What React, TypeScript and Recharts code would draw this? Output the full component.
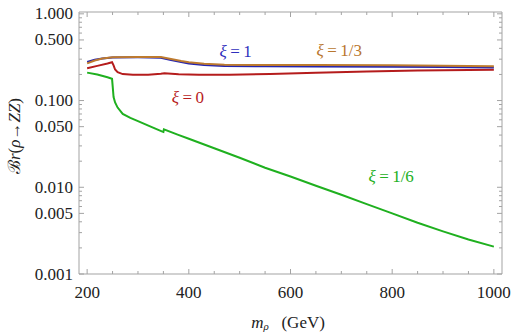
import React from 'react';
import { LineChart, Line, XAxis, YAxis, ReferenceDot } from 'recharts';

// ---- data ----
const massXi1 = [200, 215, 230, 250, 300, 345, 365, 385, 400, 430, 470, 550, 650, 800, 900, 1000];
const brXi1 = [0.279, 0.296, 0.306, 0.314, 0.315, 0.312, 0.294, 0.278, 0.268, 0.257, 0.251, 0.248, 0.247, 0.246, 0.244, 0.241];

const massXi13 = [200, 215, 230, 250, 300, 345, 365, 385, 400, 430, 470, 550, 650, 800, 900, 1000];
const brXi13 = [0.268, 0.29, 0.305, 0.315, 0.318, 0.318, 0.302, 0.286, 0.277, 0.265, 0.259, 0.257, 0.257, 0.256, 0.252, 0.248];

const massXi0 = [200, 220, 240, 249, 252, 255, 260, 270, 290, 320, 345, 352, 380, 420, 480, 560, 650, 750, 850, 1000];
const brXi0 = [0.236, 0.251, 0.268, 0.277, 0.255, 0.228, 0.212, 0.202, 0.198, 0.199, 0.204, 0.206, 0.201, 0.198, 0.199, 0.203, 0.209, 0.216, 0.222, 0.226];

const massXi16 = [200, 220, 240, 249, 250.5, 252, 255, 260, 270, 285, 300, 325, 348, 350, 351, 378, 400, 450, 500, 550, 600, 650, 700, 750, 800, 850, 900, 950, 1000];
const brXi16 = [0.21, 0.2, 0.186, 0.178, 0.14, 0.11, 0.095, 0.083, 0.07, 0.063, 0.058, 0.05, 0.0438, 0.0435, 0.0465, 0.0405, 0.0363, 0.0282, 0.0219, 0.0168, 0.0133, 0.0104, 0.0082, 0.0064, 0.005, 0.0039, 0.0031, 0.0025, 0.00207];

const xTicks = [200, 250, 300, 350, 400, 450, 500, 550, 600, 650, 700, 750, 800, 850, 900, 950, 1000];
const xMajor = [200, 400, 600, 800, 1000];
const yTicks = [
  0.001, 0.002, 0.003, 0.004, 0.005, 0.006, 0.007, 0.008, 0.009,
  0.01, 0.02, 0.03, 0.04, 0.05, 0.06, 0.07, 0.08, 0.09,
  0.1, 0.2, 0.3, 0.4, 0.5, 0.6, 0.7, 0.8, 0.9, 1,
];
const yMajor = [0.001, 0.005, 0.01, 0.05, 0.1, 0.5, 1];

const curveLabels = [
  { name: 'ξ1', text: '1', m: 492, br: 0.374, color: '#2f2fbd' },
  { name: 'ξ13', text: '1/3', m: 696, br: 0.385, color: '#b9772f' },
  { name: 'ξ0', text: '0', m: 398, br: 0.11, color: '#b81d1d' },
  { name: 'ξ16', text: '1/6', m: 798, br: 0.0135, color: '#23b023' },
];

const toRows = (ms: number[], vs: number[]) => ms.map((m, i) => ({ m, v: vs[i] }));

const FONT = "'Liberation Serif', 'Times New Roman', 'DejaVu Serif', serif";
const FRAME = '#a3a3a3';
const txt = (size: number, color: string) => ({ fontFamily: FONT, fontSize: size, fill: color });

const isMajorY = (v: number) => yMajor.some((t) => Math.abs(t - v) < 1e-9);
const fmtY = (v: number) => v.toFixed(3);

const BottomTick = (props: any) => {
  const { x, y, payload } = props;
  const major = xMajor.includes(payload.value);
  return (
    <g>
      <line x1={x} x2={x} y1={y} y2={y - (major ? 5 : 3)} stroke={FRAME} />
      {major && (
        <text x={x} y={y + 18} textAnchor="middle" dominantBaseline="central" style={txt(17, '#222')}>
          {payload.value}
        </text>
      )}
    </g>
  );
};

const TopTick = (props: any) => {
  const { x, y, payload } = props;
  const major = xMajor.includes(payload.value);
  return <line x1={x} x2={x} y1={y} y2={y + (major ? 5 : 3)} stroke={FRAME} />;
};

const LeftTick = (props: any) => {
  const { x, y, payload } = props;
  const major = isMajorY(payload.value);
  return (
    <g>
      <line x1={x} x2={x + (major ? 5 : 3)} y1={y} y2={y} stroke={FRAME} />
      {major && (
        <text x={x - 6} y={y} textAnchor="end" dominantBaseline="central" style={txt(17, '#222')}>
          {fmtY(payload.value)}
        </text>
      )}
    </g>
  );
};

const RightTick = (props: any) => {
  const { x, y, payload } = props;
  const major = isMajorY(payload.value);
  return <line x1={x} x2={x - (major ? 5 : 3)} y1={y} y2={y} stroke={FRAME} />;
};

const makeLabel = (text: string, color: string) => (p: any) => {
  const vb = p.viewBox || {};
  const cx = vb.cx !== undefined ? vb.cx : vb.x + (vb.width || 0) / 2;
  const cy = vb.cy !== undefined ? vb.cy : vb.y + (vb.height || 0) / 2;
  return (
    <text x={cx} y={cy} textAnchor="middle" dominantBaseline="central" style={txt(17, color)}>
      <tspan fontStyle="italic">ξ</tspan>
      <tspan>{'\u2009=\u2009' + text}</tspan>
    </text>
  );
};

export default function App() {
  return (
    <div style={{ position: 'absolute', left: 0, top: 0, width: 515, height: 336, background: '#fff' }}>
      <LineChart width={515} height={336} margin={{ top: 0, right: 0, bottom: 0, left: 0 }}>
        <XAxis
          xAxisId="b"
          type="number"
          dataKey="m"
          domain={[184, 1016]}
          ticks={xTicks}
          interval={0}
          orientation="bottom"
          height={62}
          tickSize={0}
          tickMargin={0}
          tickLine={false}
          axisLine={{ stroke: FRAME }}
          tick={<BottomTick />}
          allowDataOverflow
        />
        <XAxis
          xAxisId="t"
          type="number"
          dataKey="m"
          domain={[184, 1016]}
          ticks={xTicks}
          interval={0}
          orientation="top"
          height={12}
          tickSize={0}
          tickMargin={0}
          tickLine={false}
          axisLine={{ stroke: FRAME }}
          tick={<TopTick />}
          allowDataOverflow
        />
        <YAxis
          yAxisId="l"
          type="number"
          scale="log"
          domain={[0.001, 1.05]}
          ticks={yTicks}
          interval={0}
          orientation="left"
          width={79}
          tickSize={0}
          tickMargin={0}
          tickLine={false}
          axisLine={{ stroke: FRAME }}
          tick={<LeftTick />}
          allowDataOverflow
        />
        <YAxis
          yAxisId="r"
          type="number"
          scale="log"
          domain={[0.001, 1.05]}
          ticks={yTicks}
          interval={0}
          orientation="right"
          width={13}
          tickSize={0}
          tickMargin={0}
          tickLine={false}
          axisLine={{ stroke: FRAME }}
          tick={<RightTick />}
          allowDataOverflow
        />
        <Line xAxisId="b" yAxisId="l" data={toRows(massXi0, brXi0)} dataKey="v" type="linear" stroke="#b51c1c" strokeWidth={2} dot={false} isAnimationActive={false} />
        <Line xAxisId="b" yAxisId="l" data={toRows(massXi1, brXi1)} dataKey="v" type="linear" stroke="#2424b0" strokeWidth={2} dot={false} isAnimationActive={false} />
        <Line xAxisId="b" yAxisId="l" data={toRows(massXi13, brXi13)} dataKey="v" type="linear" stroke="#bd7a2e" strokeWidth={2} dot={false} isAnimationActive={false} />
        <Line xAxisId="b" yAxisId="l" data={toRows(massXi16, brXi16)} dataKey="v" type="linear" stroke="#1fb01f" strokeWidth={2} dot={false} isAnimationActive={false} />
        {curveLabels.map((c) => (
          <ReferenceDot
            key={c.name}
            xAxisId="b"
            yAxisId="l"
            x={c.m}
            y={c.br}
            r={0}
            fill="none"
            stroke="none"
            ifOverflow="visible"
            label={makeLabel(c.text, c.color)}
          />
        ))}
        <text x={288} y={322} textAnchor="middle" dominantBaseline="central" style={txt(17, '#222')}>
          <tspan fontStyle="italic">m</tspan>
          <tspan fontStyle="italic" fontSize={11} dy={4}>ρ</tspan>
          <tspan dy={-4}>{'\u00a0\u00a0\u00a0(GeV)'}</tspan>
        </text>
        <text
          x={14}
          y={136}
          textAnchor="middle"
          dominantBaseline="central"
          style={txt(17, '#222')}
          transform="rotate(-90 14 136)"
        >
          <tspan>ℬ</tspan>
          <tspan fontStyle="italic">r</tspan>
          <tspan>(</tspan>
          <tspan fontStyle="italic">ρ</tspan>
          <tspan>→</tspan>
          <tspan fontStyle="italic">ZZ</tspan>
          <tspan>)</tspan>
        </text>
      </LineChart>
    </div>
  );
}
